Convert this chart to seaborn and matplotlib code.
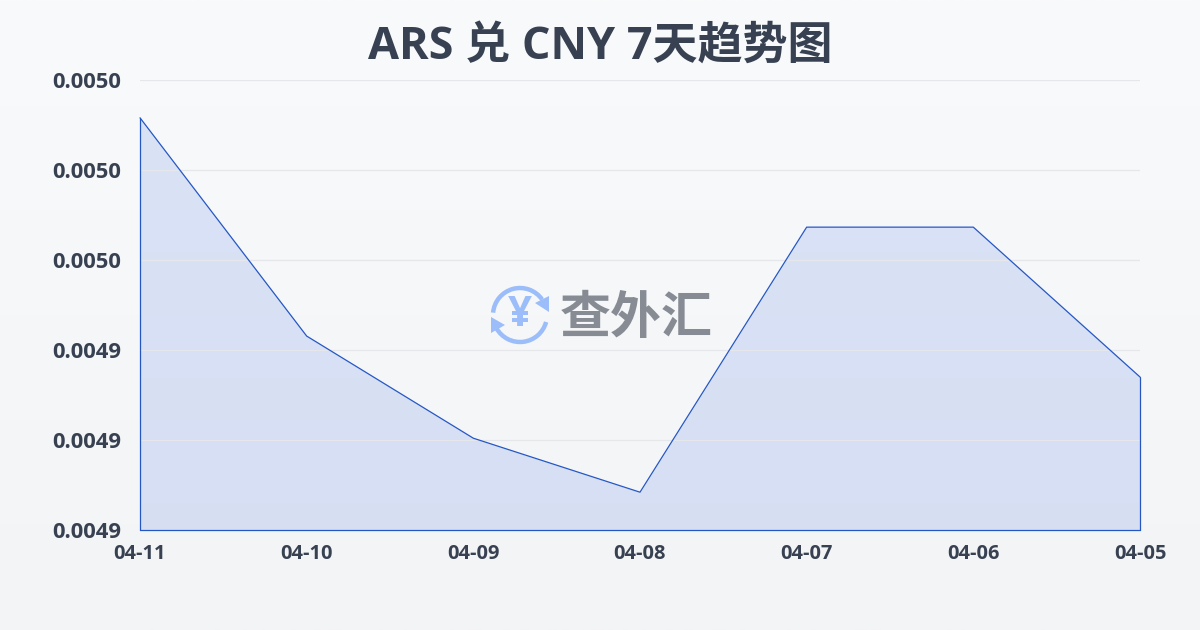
import numpy as np
import pandas as pd
import seaborn as sns
import matplotlib.pyplot as plt
from matplotlib.patches import Arc, Polygon

# values
dates = ['04-11', '04-10', '04-09', '04-08', '04-07', '04-06', '04-05']
rates = [0.0049916, 0.0049431, 0.0049204, 0.0049084, 0.0049673, 0.0049673, 0.0049340]
y_ticks = [0.00490, 0.00492, 0.00494, 0.00496, 0.00498, 0.00500]
y_labels = ['0.0049', '0.0049', '0.0049', '0.0050', '0.0050', '0.0050']

sns.set_style('white')
plt.rcParams['font.family'] = ['Open Sans', 'Noto Sans CJK SC', 'DejaVu Sans']

df = pd.DataFrame({'date': dates, 'rate': rates})
df['pos'] = range(len(df))

dark = '#374151'
blue = '#2557c4'
px = 0.72  # points per pixel at dpi 100

fig = plt.figure(figsize=(12, 6.3), dpi=100)

# page background, a soft vertical gradient
bg = fig.add_axes([0, 0, 1, 1], zorder=0)
bg.imshow(np.linspace(0, 1, 256).reshape(-1, 1), aspect='auto', extent=[0, 1200, 630, 0],
          cmap=plt.matplotlib.colors.LinearSegmentedColormap.from_list('page', ['#f9fafb', '#f3f4f6']))
bg.set_xlim(0, 1200)
bg.set_ylim(630, 0)
bg.axis('off')

# plot area runs 140..1140 by 80..530 px
ax = fig.add_axes([140 / 1200, 1 - 530 / 630, 1000 / 1200, 450 / 630], zorder=1)
ax.patch.set_alpha(0)

ax.fill_between(df['pos'], df['rate'], y_ticks[0], color='#3b6fe0', alpha=0.155, lw=0, zorder=2)
sns.lineplot(data=df, x='pos', y='rate', ax=ax, color=blue, linewidth=0.9, zorder=4, clip_on=False)
ax.plot([0, 0], [y_ticks[0], rates[0]], color=blue, lw=0.9, zorder=4, clip_on=False)
ax.plot([6, 6], [y_ticks[0], rates[-1]], color=blue, lw=0.9, zorder=4, clip_on=False)
ax.plot([0, 6], [y_ticks[0], y_ticks[0]], color=blue, lw=0.9, zorder=4, clip_on=False)

ax.set_xlim(0, 6)
ax.set_ylim(y_ticks[0], y_ticks[-1])
ax.set_xticks(df['pos'])
ax.set_xticklabels(dates, fontsize=20 * px, fontweight='bold', color=dark)
ax.set_yticks(y_ticks)
ax.set_yticklabels(y_labels, fontsize=22 * px, fontweight='bold', color=dark)
ax.tick_params(axis='x', length=7, width=0.8, color='#e5e7eb', pad=3)
ax.tick_params(axis='y', length=0, pad=13.5)
ax.grid(axis='y', color='#e5e7eb', lw=0.9, zorder=1)
ax.set_axisbelow(False)
ax.grid(axis='x', visible=False)
sns.despine(ax=ax, left=True, bottom=True)
ax.set_xlabel('')
ax.set_ylabel('')

fig.text(600 / 1200, 1 - 47 / 630, 'ARS 兑 CNY 7天趋势图', fontsize=45 * px, fontweight='bold',
         color=dark, ha='center', va='center')

# watermark logo on top of the chart
logo = fig.add_axes([0, 0, 1, 1], zorder=3)
logo.set_xlim(0, 1200)
logo.set_ylim(630, 0)
logo.axis('off')
logo.patch.set_alpha(0)
icon = '#9bbdf9'
# y axis is flipped here, so arc angles run clockwise on screen
logo.add_patch(Arc((520, 315), 54, 54, theta1=185, theta2=325, color=icon, lw=3.2))
logo.add_patch(Arc((520, 315), 54, 54, theta1=15, theta2=150, color=icon, lw=3.2))
logo.add_patch(Polygon([(549, 296), (549, 312), (535, 303)], color=icon, lw=0))
logo.add_patch(Polygon([(491, 317), (491, 333), (505, 325)], color=icon, lw=0))
logo.text(520, 315, '¥', fontsize=42 * px, fontweight='bold', color=icon, ha='center', va='center')
logo.text(636, 319, '查外汇', fontsize=51 * px, fontweight='bold', color='#868b94', ha='center', va='center',
          family='Noto Sans CJK SC')

fig.savefig('out.png', dpi=100)
